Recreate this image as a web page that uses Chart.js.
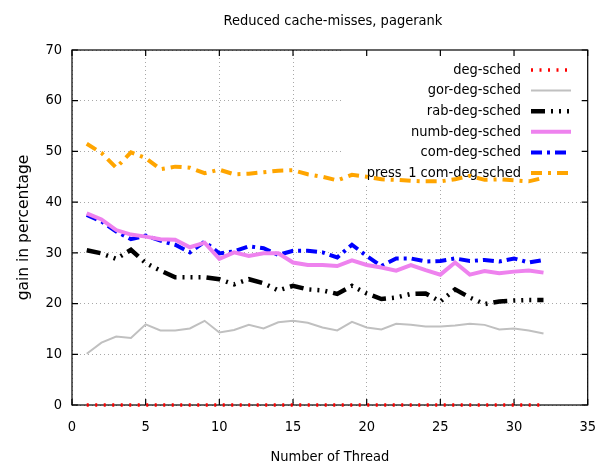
<!DOCTYPE html>
<html><head><meta charset="utf-8">
<script src="https://cdn.jsdelivr.net/npm/chart.js@4.4.1/dist/chart.umd.min.js"></script>
<style>html,body{margin:0;padding:0;background:#fff;}</style>
</head><body>
<canvas id="c" width="610" height="469" style="width:610px;height:469px;display:block"></canvas>
<script>
const chartTitle = "Reduced cache-misses, pagerank";
const xTitle = "Number of Thread";
const yTitle = "gain in percentage";
const threads = [1,2,3,4,5,6,7,8,9,10,11,12,13,14,15,16,17,18,19,20,21,22,23,24,25,26,27,28,29,30,31,32];
const seriesNames = ["deg-sched","gor-deg-sched","rab-deg-sched","numb-deg-sched","com-deg-sched","press_1 com-deg-sched"];
const degSched = [0,0,0,0,0,0,0,0,0,0,0,0,0,0,0,0,0,0,0,0,0,0,0,0,0,0,0,0,0,0,0,0];
const gorDegSched = [10.1,12.3,13.5,13.2,15.9,14.7,14.7,15.1,16.6,14.3,14.8,15.8,15.1,16.3,16.6,16.2,15.3,14.7,16.4,15.3,14.9,16.0,15.8,15.5,15.5,15.7,16.0,15.8,14.9,15.1,14.7,14.1];
const rabDegSched = [30.5,29.9,28.8,30.6,28.0,26.5,25.2,25.2,25.2,24.8,23.8,24.8,24.0,22.6,23.5,22.8,22.6,21.9,23.5,22.0,20.9,21.2,21.9,22.0,20.4,22.8,21.2,19.9,20.4,20.6,20.7,20.7];
const numbDegSched = [37.8,36.6,34.5,33.6,33.2,32.7,32.6,31.1,32.0,28.8,30.1,29.4,29.9,29.9,28.1,27.6,27.6,27.4,28.5,27.6,27.1,26.5,27.6,26.6,25.7,28.1,25.7,26.4,26.0,26.3,26.5,26.1];
const comDegSched = [37.5,36.2,34.2,32.7,33.4,32.4,31.6,30.1,32.2,29.9,30.3,31.3,30.9,29.6,30.4,30.4,30.1,29.1,31.6,29.4,27.4,28.9,28.9,28.3,28.4,28.9,28.4,28.6,28.3,28.9,28.1,28.6];
const press1ComDegSched = [51.5,49.7,46.8,49.8,48.7,46.5,47.0,46.8,45.7,46.4,45.5,45.6,45.9,46.2,46.3,45.5,45.0,44.3,45.4,45.0,44.5,44.4,44.2,44.1,44.1,44.5,45.2,44.4,44.5,44.3,44.1,44.8];
const xTickValues = [0,5,10,15,20,25,30,35];
const yTickValues = [0,10,20,30,40,50,60,70];

const FONT = "'DejaVu Sans Condensed','DejaVu Sans',sans-serif";
const seriesValues = [degSched,gorDegSched,rabDegSched,numbDegSched,comDegSched,press1ComDegSched];
const styles = [
  {color:'#ff0000', width:3.5, dash:[2,6.5]},
  {color:'#c0c0c0', width:2, dash:[]},
  {color:'#000000', width:4.5, dash:[14,6,2,6,2,6,2,6]},
  {color:'#ee82ee', width:4, dash:[]},
  {color:'#0000ff', width:4, dash:[11,5,3,5]},
  {color:'#ffa500', width:4, dash:[11,6,3,6]}
];
const datasets = seriesNames.map((name,i)=>({
  label:name,
  data: threads.map((t,j)=>({x:t,y:seriesValues[i][j]})),
  borderColor:styles[i].color,
  borderWidth:styles[i].width,
  borderDash:styles[i].dash,
  borderCapStyle:'butt',
  borderJoinStyle:'miter',
  pointRadius:0,
  fill:false,
  tension:0,
  clip:false
}));

const framePlugin = {
  id:'frameLegend',
  beforeDatasetsDraw(chart){
    const ctx = chart.ctx, a = chart.chartArea;
    const xs = chart.scales.x, ys = chart.scales.y;
    ctx.save();
    // legend background (opaque key)
    ctx.fillStyle = '#fff';
    ctx.fillRect(342, a.top, a.right-342, 185-a.top);
    // frame
    ctx.strokeStyle = '#000';
    ctx.lineWidth = 1.2;
    ctx.setLineDash([]);
    ctx.strokeRect(a.left, a.top, a.right-a.left, a.bottom-a.top);
    ctx.beginPath();
    xTickValues.forEach(v=>{
      const px = xs.getPixelForValue(v);
      ctx.moveTo(px, a.bottom); ctx.lineTo(px, a.bottom-6);
      ctx.moveTo(px, a.top); ctx.lineTo(px, a.top+6);
    });
    yTickValues.forEach(v=>{
      const py = ys.getPixelForValue(v);
      ctx.moveTo(a.left, py); ctx.lineTo(a.left+6, py);
      ctx.moveTo(a.right, py); ctx.lineTo(a.right-6, py);
    });
    ctx.stroke();
    // legend entries
    ctx.font = '14.5px ' + FONT;
    ctx.textAlign = 'right';
    ctx.textBaseline = 'middle';
    chart.data.datasets.forEach((ds,i)=>{
      const y = 70 + i*20.6;
      ctx.fillStyle = '#000';
      ctx.fillText(ds.label, 521, y);
      ctx.beginPath();
      ctx.strokeStyle = ds.borderColor;
      ctx.lineWidth = ds.borderWidth;
      ctx.setLineDash(ds.borderDash);
      ctx.lineCap = 'butt';
      ctx.moveTo(531, y); ctx.lineTo(571, y);
      ctx.stroke();
    });
    ctx.setLineDash([]);
    // title
    ctx.fillStyle = '#000';
    ctx.textAlign = 'center';
    ctx.font = '14.5px ' + FONT;
    ctx.fillText(chartTitle, 333, 21);
    ctx.restore();
  }
};

new Chart(document.getElementById('c'), {
  type:'line',
  data:{datasets},
  options:{
    responsive:false,
    animation:false,
    layout:{padding:{left:0,right:22,top:50,bottom:0}},
    plugins:{legend:{display:false},title:{display:false},tooltip:{enabled:false}},
    scales:{
      x:{
        type:'linear', min:0, max:35,
        afterBuildTicks(s){ s.ticks = xTickValues.map(v=>({value:v})); },
        afterFit(s){ s.height = 64; },
        grid:{color:'#a8a8a8', lineWidth:1, drawTicks:false},
        border:{display:false, dash:[1,3]},
        ticks:{color:'#000', padding:14, font:{family:FONT,size:14.5}, maxRotation:0},
        title:{display:true, text:xTitle, color:'#000', font:{family:FONT,size:14.5}, padding:{top:0,bottom:3}}
      },
      y:{
        type:'linear', min:0, max:70,
        afterBuildTicks(s){ s.ticks = yTickValues.map(v=>({value:v})); },
        afterFit(s){ s.width = 72; },
        grid:{color:'#a8a8a8', lineWidth:1, drawTicks:false},
        border:{display:false, dash:[1,3]},
        ticks:{color:'#000', padding:10, font:{family:FONT,size:14.5}},
        title:{display:true, text:yTitle, color:'#000', font:{family:"'DejaVu Sans',sans-serif",size:15.5}, padding:{top:15,bottom:0}}
      }
    }
  },
  plugins:[framePlugin]
});
</script>
</body></html>
